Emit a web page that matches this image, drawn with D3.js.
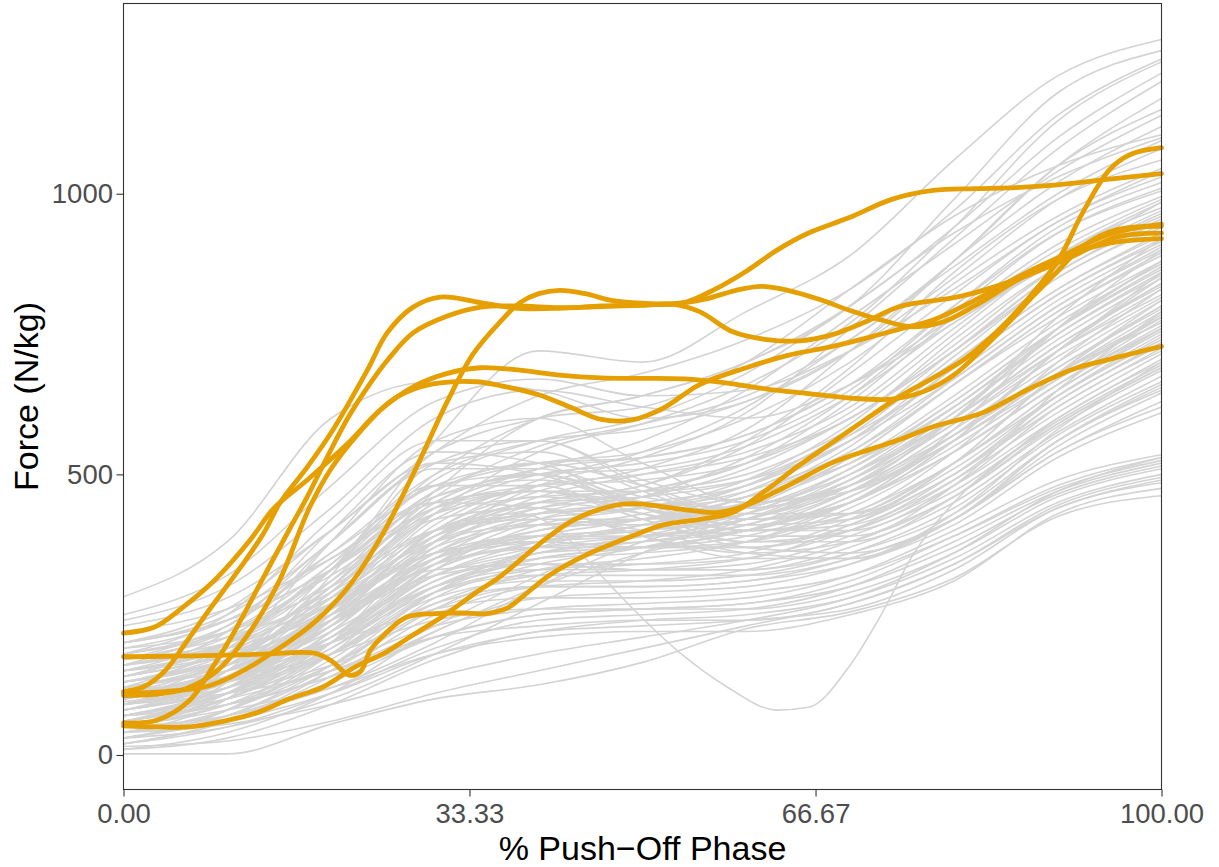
<!DOCTYPE html>
<html>
<head>
<meta charset="utf-8">
<script src="https://cdn.jsdelivr.net/npm/d3@7"></script>
<style>
  html, body { margin: 0; padding: 0; background: #ffffff; }
  svg { display: block; }
</style>
</head>
<body>
<svg id="chart" width="1219" height="867"></svg>
<script>
// ---- axis tick values ----
const xTicks = [0, 33.33, 66.67, 100];
const yTicks = [0, 500, 1000];

// ---- sample positions (% of push-off) for the background trials ----
const pctGrid = [0, 10, 20, 30, 40, 50, 60, 70, 80, 90, 100];

// ---- background trials (force, N/kg), grouped by final force ----
const trialsHigh = [
  [282, 380, 600, 665, 650, 600, 630, 720, 880, 1050, 1150],
  [150, 200, 330, 560, 720, 700, 790, 890, 1060, 1210, 1275],
  [120, 170, 290, 470, 600, 640, 700, 800, 990, 1180, 1255],
  [200, 250, 380, 540, 640, 680, 740, 830, 970, 1140, 1240],
  [90, 140, 270, 430, 540, 590, 660, 770, 940, 1130, 1235],
  [170, 220, 340, 500, 600, 640, 700, 800, 940, 1100, 1215],
  [60, 110, 220, 380, 480, 530, 610, 760, 920, 1080, 1200],
  [130, 180, 300, 460, 550, 590, 640, 740, 880, 1050, 1170],
  [100, 160, 290, 440, 510, 560, 650, 780, 910, 1040, 1140],
  [80, 130, 240, 390, 470, 510, 580, 720, 880, 1020, 1120],
  [140, 200, 330, 490, 560, 600, 680, 800, 930, 1030, 1100],
  [230, 280, 400, 540, 600, 620, 700, 830, 960, 1050, 1105],
  [110, 150, 260, 410, 490, 540, 620, 740, 870, 1000, 1095],
  [180, 230, 360, 500, 560, 580, 630, 720, 850, 990, 1080],
  [70, 120, 230, 370, 450, 480, 560, 690, 860, 990, 1060]
];

const trialsUpper = [
  [250, 320, 480, 630, 670, 640, 650, 720, 830, 950, 1040],
  [240, 300, 440, 600, 650, 620, 600, 660, 770, 880, 985],
  [160, 210, 330, 470, 520, 540, 600, 700, 840, 960, 1045],
  [100, 150, 260, 390, 450, 480, 550, 680, 820, 950, 1030],
  [130, 170, 280, 430, 500, 520, 560, 650, 800, 940, 1020],
  [50, 100, 200, 340, 420, 460, 530, 640, 790, 930, 1010],
  [190, 240, 360, 480, 520, 530, 570, 660, 800, 930, 1005],
  [90, 130, 230, 370, 440, 470, 520, 630, 780, 910, 995],
  [150, 190, 300, 450, 510, 530, 570, 660, 780, 900, 990],
  [120, 160, 250, 380, 460, 500, 540, 620, 760, 890, 985],
  [70, 110, 210, 350, 430, 470, 520, 610, 750, 890, 975],
  [220, 260, 350, 460, 500, 510, 550, 640, 770, 880, 970],
  [110, 150, 250, 400, 480, 500, 530, 600, 730, 870, 965],
  [40, 80, 180, 330, 410, 440, 490, 590, 740, 870, 960],
  [160, 200, 310, 440, 480, 490, 520, 600, 720, 860, 955],
  [80, 120, 210, 340, 400, 430, 480, 580, 720, 860, 950],
  [140, 180, 270, 390, 440, 460, 510, 600, 720, 850, 945],
  [100, 140, 240, 360, 420, 440, 480, 570, 710, 850, 940]
];

const trialsMiddle = [
  [60, 100, 200, 330, 390, 420, 470, 560, 700, 830, 930],
  [180, 220, 320, 430, 460, 470, 500, 580, 700, 830, 925],
  [120, 160, 260, 380, 430, 450, 480, 560, 690, 820, 920],
  [30, 70, 160, 290, 370, 410, 460, 550, 690, 820, 915],
  [150, 190, 280, 400, 450, 460, 490, 570, 680, 810, 910],
  [90, 130, 230, 350, 400, 420, 460, 540, 670, 800, 905],
  [200, 240, 330, 440, 470, 470, 490, 560, 670, 800, 900],
  [70, 110, 200, 320, 380, 410, 450, 530, 660, 790, 895],
  [130, 170, 270, 390, 430, 440, 470, 540, 660, 790, 890],
  [50, 90, 180, 300, 360, 390, 440, 530, 660, 780, 880],
  [110, 150, 240, 350, 400, 420, 450, 520, 640, 770, 875],
  [160, 200, 290, 400, 430, 440, 460, 520, 630, 760, 870],
  [80, 120, 210, 330, 380, 400, 430, 510, 630, 760, 865],
  [140, 180, 260, 370, 410, 420, 440, 510, 620, 750, 860],
  [20, 60, 150, 280, 340, 370, 420, 500, 620, 750, 855],
  [100, 140, 230, 340, 390, 400, 420, 490, 610, 740, 850],
  [190, 220, 300, 400, 420, 420, 440, 500, 600, 730, 840],
  [60, 100, 190, 310, 360, 380, 410, 480, 600, 730, 835],
  [120, 160, 240, 350, 390, 400, 420, 480, 590, 720, 830],
  [90, 130, 210, 320, 370, 390, 420, 490, 600, 720, 820],
  [170, 210, 280, 380, 410, 410, 430, 490, 590, 710, 815],
  [40, 80, 170, 290, 350, 370, 400, 470, 580, 700, 810],
  [130, 170, 250, 350, 380, 390, 410, 470, 570, 690, 800],
  [70, 110, 190, 300, 350, 370, 400, 460, 570, 690, 795],
  [150, 180, 260, 360, 390, 390, 400, 460, 560, 680, 790],
  [100, 140, 220, 320, 360, 370, 390, 450, 550, 670, 785],
  [30, 70, 150, 260, 330, 350, 380, 450, 560, 670, 780],
  [110, 150, 230, 340, 370, 380, 400, 450, 540, 660, 775],
  [200, 240, 330, 450, 470, 450, 440, 480, 570, 680, 770],
  [80, 120, 200, 310, 350, 360, 380, 440, 540, 660, 765]
];

// trials that peak early in the push-off, sag, then rise again
const trialsEarlyPeak = [
  [100, 180, 380, 560, 600, 520, 450, 480, 600, 760, 880],
  [60, 130, 320, 520, 560, 480, 420, 450, 560, 720, 850],
  [150, 220, 400, 540, 520, 440, 400, 430, 540, 700, 830],
  [80, 150, 330, 480, 500, 440, 400, 420, 520, 680, 800],
  [120, 200, 380, 520, 540, 470, 420, 430, 520, 650, 760],
  [40, 100, 260, 450, 500, 450, 400, 410, 500, 640, 750],
  [180, 250, 420, 560, 560, 490, 450, 470, 570, 720, 860],
  [90, 160, 300, 470, 520, 480, 430, 430, 510, 640, 740],
  [130, 190, 340, 480, 480, 420, 380, 400, 490, 630, 730],
  [70, 120, 250, 420, 470, 430, 380, 380, 460, 600, 700],
  [200, 260, 400, 520, 500, 440, 410, 450, 580, 760, 900],
  [110, 170, 310, 460, 490, 450, 420, 450, 560, 720, 840],
  [50, 110, 240, 400, 460, 440, 410, 420, 520, 680, 810],
  [160, 230, 380, 510, 510, 460, 440, 480, 600, 780, 920],
  [100, 160, 290, 430, 470, 440, 400, 400, 480, 620, 720],
  [30, 80, 200, 380, 450, 430, 390, 390, 460, 590, 690],
  [140, 200, 330, 450, 470, 420, 370, 360, 420, 560, 660],
  [60, 110, 220, 360, 420, 400, 360, 350, 420, 560, 650],
  [90, 150, 280, 420, 440, 390, 350, 350, 430, 580, 700],
  [170, 230, 350, 450, 440, 390, 360, 380, 480, 650, 790]
];

// trials with a delayed rise
const trialsLateRise = [
  [50, 70, 120, 200, 300, 380, 420, 470, 560, 680, 780],
  [90, 110, 150, 230, 320, 400, 460, 520, 620, 760, 880],
  [30, 50, 100, 180, 270, 360, 430, 500, 610, 750, 860],
  [70, 90, 140, 220, 300, 360, 400, 450, 540, 660, 760]
];

const trialsLower = [
  [120, 160, 240, 340, 370, 370, 380, 430, 520, 650, 755],
  [60, 100, 180, 290, 330, 340, 360, 420, 520, 640, 745],
  [140, 180, 260, 360, 380, 370, 370, 410, 500, 630, 735],
  [90, 130, 200, 300, 340, 340, 350, 410, 500, 620, 725],
  [40, 80, 160, 270, 320, 330, 350, 400, 490, 610, 715],
  [170, 200, 270, 360, 380, 370, 370, 400, 480, 600, 705],
  [100, 140, 210, 300, 330, 330, 340, 390, 470, 595, 695],
  [20, 60, 140, 250, 300, 310, 330, 380, 460, 585, 685],
  [130, 170, 240, 320, 340, 330, 330, 370, 450, 575, 675],
  [70, 110, 180, 280, 310, 310, 320, 360, 440, 570, 665],
  [160, 190, 250, 330, 340, 330, 330, 360, 430, 560, 655],
  [50, 90, 160, 260, 300, 300, 310, 350, 420, 550, 645],
  [110, 140, 200, 290, 320, 320, 320, 350, 420, 540, 630],
  [10, 40, 110, 220, 280, 290, 300, 340, 420, 540, 620],
  [90, 120, 180, 270, 300, 300, 310, 340, 410, 530, 610]
];

const trialsLow = [
  [80, 110, 160, 230, 260, 270, 280, 320, 400, 490, 535],
  [40, 70, 130, 210, 250, 260, 270, 310, 390, 480, 530],
  [120, 150, 200, 260, 280, 280, 290, 320, 390, 475, 525],
  [20, 50, 110, 190, 240, 250, 260, 300, 380, 470, 520],
  [60, 90, 140, 210, 250, 260, 270, 300, 370, 465, 515],
  [100, 130, 180, 240, 260, 260, 260, 290, 360, 460, 510],
  [30, 60, 110, 180, 220, 240, 250, 280, 350, 450, 500],
  [70, 100, 150, 210, 230, 240, 240, 270, 340, 445, 495],
  [10, 30, 90, 170, 220, 230, 240, 260, 330, 440, 485],
  [50, 80, 120, 180, 210, 220, 220, 250, 310, 430, 475],
  [40, 55, 90, 140, 180, 210, 240, 280, 360, 470, 530],
  [15, 25, 60, 110, 150, 190, 230, 270, 340, 440, 490],
  [2, 2, 55, 100, 125, 165, 225, 255, 315, 425, 462]
];

// one trial with a deep mid-phase drop, sampled more finely
const trialDrop = [
  [0, 95], [10, 130], [20, 230], [30, 400], [38, 430], [42, 400], [45, 340],
  [49, 262], [54, 176], [58, 123], [63, 80], [66, 85], [70, 160], [73, 250],
  [76, 355], [80, 450], [85, 530], [90, 590], [100, 690]
];

// ---- highlighted trials: [% push-off, force] ----
const highlightA = [
  [0, 217], [3, 228], [5.5, 260], [8.7, 310], [12.2, 383], [14.5, 440], [17.7, 490],
  [21.6, 555], [24.7, 614], [27.9, 656], [31.2, 680], [34.4, 690], [38, 686], [42, 677],
  [46, 672], [50, 671], [54, 670], [58, 663], [62, 652], [66, 644], [70, 636], [74, 634],
  [77, 647], [80, 677], [83, 728], [85.5, 775], [87.6, 817], [90, 862], [92.4, 906],
  [95.7, 936], [100, 942]
];
const highlightB = [
  [0, 113], [2, 122], [4, 150], [6, 200], [8, 252], [11.3, 335], [13.5, 395], [15.1, 450],
  [17.7, 513], [20.2, 580], [23.5, 686], [25.4, 752], [27.9, 798], [30.5, 816], [34.4, 806],
  [38, 796], [42, 796], [46, 800], [50, 802], [54, 806], [57, 830], [60, 862], [63, 900],
  [66, 930], [70, 958], [74, 990], [78, 1006], [82, 1009], [86, 1011], [90, 1016],
  [95, 1026], [100, 1036]
];
const highlightC = [
  [0, 57], [3.2, 62], [6.4, 98], [8.6, 157], [10.6, 217], [13.5, 317], [16.1, 406],
  [17.7, 460], [19.6, 530], [21.6, 600], [23.5, 655], [25.5, 705], [27.9, 752], [31.2, 782],
  [34.4, 798], [38, 800], [42, 797], [46, 799], [50, 801], [53, 803], [55.5, 790],
  [58.7, 754], [62, 740], [65.2, 738], [68.3, 749], [71.5, 772], [74.8, 799], [80.6, 817],
  [86, 847], [91, 885], [95.7, 923], [100, 930]
];
const highlightD = [
  [0, 110], [4, 113], [8, 122], [11, 145], [15, 190], [18.3, 235], [21.6, 298], [24.7, 385],
  [27.9, 500], [31.2, 630], [33.7, 715], [36.3, 772], [38.2, 806], [40, 822], [42, 828],
  [44.5, 822], [47, 810], [50, 805], [53, 804], [56, 812], [59, 828], [61.5, 835], [64, 828],
  [67, 812], [70, 792], [73, 775], [76, 763], [79, 772], [82, 800], [86, 845], [90, 885],
  [95, 928], [100, 946]
];
const highlightE = [
  [0, 106], [3, 108], [6, 118], [9, 150], [12, 215], [15, 310], [17.9, 440], [20, 510],
  [22.5, 570], [25.7, 630], [28, 652], [30.5, 663], [34, 665], [36.3, 658], [40, 642],
  [43, 620], [46, 598], [49, 597], [52, 618], [55.5, 660], [60, 690], [64, 712], [68.3, 728],
  [72, 745], [75, 760], [78, 775], [82, 810], [86, 850], [90, 885], [95, 912], [100, 920]
];
const highlightF = [
  [0, 175], [5, 176], [10, 178], [14, 180], [17, 183], [18.5, 181], [20, 168], [21.8, 142],
  [22.8, 148], [23.8, 187], [25, 212], [27.2, 245], [30, 252], [32.7, 253], [35, 252],
  [37, 262], [38.5, 283], [41, 320], [44.3, 354], [49, 390], [52, 410], [55.5, 420],
  [58.7, 432], [62, 473], [65, 515], [68.3, 557], [71.5, 598], [74.8, 639], [78, 672],
  [81, 705], [84, 752], [87, 810], [90, 880], [92.4, 966], [95, 1043], [97, 1070], [100, 1082]
];
const highlightG = [
  [0, 52], [3.2, 50], [6.4, 50], [9.6, 60], [12.8, 75], [16, 100], [19.2, 121], [22.4, 158],
  [25, 180], [28, 215], [31, 250], [34, 290], [36.3, 318], [40, 375], [43, 415], [45.9, 438],
  [48.1, 447], [50, 447], [52.4, 441], [55, 435], [57.2, 432], [60, 445], [64, 480],
  [68.3, 521], [72, 545], [74.8, 562], [78, 585], [82.8, 610], [87, 650], [91.4, 687],
  [95, 705], [100, 728]
];

// ---- layout ----
const panel = { left: 123.5, right: 1161.5, top: 3.5, bottom: 789.5 };
const FONT = "'Liberation Sans', Arial, Helvetica, sans-serif";

const x = d3.scaleLinear().domain([0, 100]).range([panel.left, panel.right]);
const y = d3.scaleLinear().domain([-61.5, 1339]).range([panel.bottom, panel.top]);

const svg = d3.select("#chart");

const gridLine = d3.line()
  .x(d => x(d[0]))
  .y(d => y(d[1]))
  .curve(d3.curveMonotoneX);

const highlightLine = d3.line()
  .x(d => x(d[0]))
  .y(d => y(d[1]))
  .curve(d3.curveCatmullRom.alpha(0.5));

const onGrid = vals => vals.map((v, i) => [pctGrid[i], v]);

const background = [
  ...trialsHigh, ...trialsUpper, ...trialsMiddle, ...trialsEarlyPeak,
  ...trialsLateRise, ...trialsLower, ...trialsLow
].map(onGrid).concat([trialDrop]);

const highlighted = [highlightA, highlightB, highlightC, highlightD, highlightE, highlightF, highlightG];

const plot = svg.append("g");

plot.selectAll("path.trial")
  .data(background)
  .join("path")
  .attr("class", "trial")
  .attr("d", gridLine)
  .attr("fill", "none")
  .attr("stroke", "#d3d3d3")
  .attr("stroke-width", 1.6)
  .attr("stroke-linejoin", "round");

plot.selectAll("path.highlight")
  .data(highlighted)
  .join("path")
  .attr("class", "highlight")
  .attr("d", highlightLine)
  .attr("fill", "none")
  .attr("stroke", "#E69F00")
  .attr("stroke-width", 4.8)
  .attr("stroke-linejoin", "round")
  .attr("stroke-linecap", "round");

// panel border
svg.append("rect")
  .attr("x", panel.left)
  .attr("y", panel.top)
  .attr("width", panel.right - panel.left)
  .attr("height", panel.bottom - panel.top)
  .attr("fill", "none")
  .attr("stroke", "#333333")
  .attr("stroke-width", 1.1);

// x axis
const xAxis = svg.append("g")
  .attr("transform", `translate(0,${panel.bottom})`)
  .call(d3.axisBottom(x).tickValues(xTicks).tickFormat(d3.format(".2f")).tickSize(7).tickPadding(7));
xAxis.select(".domain").remove();
xAxis.selectAll(".tick line").attr("stroke", "#333333").attr("stroke-width", 1.1);
xAxis.selectAll(".tick text")
  .attr("fill", "#4d4d4d")
  .style("font-family", FONT)
  .style("font-size", "27.5px");

// y axis
const yAxis = svg.append("g")
  .attr("transform", `translate(${panel.left},0)`)
  .call(d3.axisLeft(y).tickValues(yTicks).tickFormat(d3.format("d")).tickSize(7).tickPadding(3.5));
yAxis.select(".domain").remove();
yAxis.selectAll(".tick line").attr("stroke", "#333333").attr("stroke-width", 1.1);
yAxis.selectAll(".tick text")
  .attr("fill", "#4d4d4d")
  .style("font-family", FONT)
  .style("font-size", "27.5px");

// axis titles
svg.append("text")
  .attr("x", (panel.left + panel.right) / 2)
  .attr("y", 860)
  .attr("text-anchor", "middle")
  .attr("fill", "#000000")
  .style("font-family", FONT)
  .style("font-size", "34px")
  .text("% Push\u2212Off Phase");

svg.append("text")
  .attr("transform", `translate(37.5,${(panel.top + panel.bottom) / 2}) rotate(-90)`)
  .attr("text-anchor", "middle")
  .attr("fill", "#000000")
  .style("font-family", FONT)
  .style("font-size", "34px")
  .text("Force (N/kg)");
</script>
</body>
</html>
